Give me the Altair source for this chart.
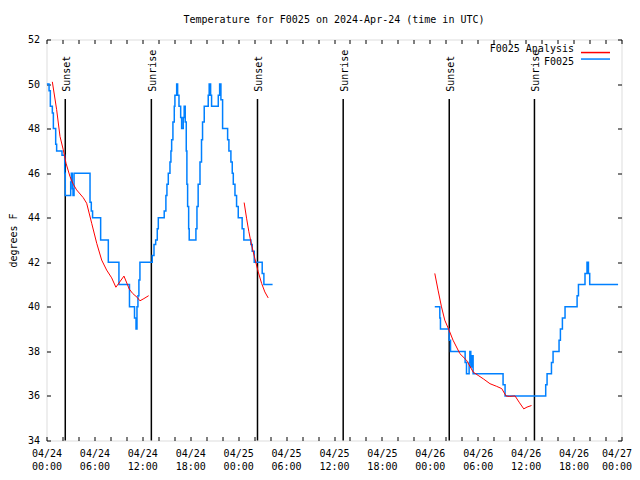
import altair as alt
import pandas as pd

TITLE = "Temperature for F0025 on 2024-Apr-24 (time in UTC)"
OBS_NAME = "F0025"
ANA_NAME = "F0025 Analysis"
Y_TITLE = "degrees F"
START_Y, START_M, START_D = 2024, 4, 24   # hours below count from this day 00:00 UTC

# Observations (hours since start, degrees F), change points of the stepped trace
obs1_h = [0.05, 0.32, 0.48, 0.73, 0.86, 1.15, 1.27, 1.94, 2.28, 2.35, 3.03, 3.11, 3.23, 3.32, 3.45,
          5.45, 5.61, 5.77, 6.78, 7.74, 9.07, 10.39, 11.02, 11.21, 11.33, 11.45, 11.57, 11.70,
          13.24, 13.46, 13.67, 13.87, 14.00, 14.74, 14.95, 15.08, 15.25, 15.46, 15.58, 15.67, 15.83,
          16.00, 16.08, 16.30, 16.42, 16.59, 16.80, 16.92, 17.12, 17.24, 17.37, 17.50, 17.58, 17.67,
          17.80, 17.87, 18.71, 18.84, 18.99, 19.22, 19.41, 19.54, 19.75, 20.25, 20.37, 20.55, 20.67,
          21.51, 21.68, 21.84, 22.05, 22.68, 22.84, 23.09, 23.26, 23.39, 23.60, 23.80, 24.01, 24.50,
          24.71, 25.59, 25.76, 26.01, 27.01, 27.22, 28.31]
obs1_v = [50.0, 49.7, 49.0, 48.7, 48.0, 47.3, 47.0, 46.8, 46.0, 45.0, 45.6, 46.0, 45.3, 45.0, 46.0,
          44.7, 44.3, 44.0, 43.0, 42.0, 41.0, 40.0, 39.5, 39.0, 40.0, 40.5, 41.2, 42.0,
          42.3, 42.8, 43.0, 43.5, 44.0, 44.3, 45.0, 45.5, 46.0, 46.5, 47.0, 47.5, 48.3,
          49.0, 49.5, 50.0, 49.5, 49.0, 48.5, 48.0, 48.5, 49.0, 48.3, 47.0, 45.5, 44.5,
          43.5, 43.0, 43.5, 44.5, 45.5, 46.5, 47.5, 48.3, 49.0, 49.5, 50.0, 49.5, 49.0,
          49.5, 50.0, 49.3, 48.0, 47.5, 47.0, 46.5, 46.0, 45.5, 45.0, 44.5, 44.0, 43.5,
          43.0, 42.8, 42.5, 42.0, 41.5, 41.0, 41.0]

obs2_h = [48.62, 49.25, 49.33, 50.42, 50.59, 52.42, 52.59, 52.92, 53.01, 53.13, 53.26, 53.42,
          57.17, 57.42, 62.51, 62.68, 63.23, 63.43, 64.18, 64.35, 64.60, 64.93, 66.44, 66.61,
          67.43, 67.68, 67.86, 68.02, 71.57]
obs2_v = [40.0, 39.5, 39.0, 38.5, 38.0, 37.5, 37.0, 37.5, 38.0, 37.3, 37.8, 37.0,
          36.5, 36.0, 36.5, 37.0, 37.5, 38.0, 38.5, 39.0, 39.5, 40.0, 40.5, 41.0,
          41.5, 42.0, 41.5, 41.0, 41.0]

# Analysis trace
ana1_h = [0.73, 1.27, 1.69, 2.10, 2.44, 2.94, 3.36, 3.77, 4.60, 5.03, 5.66, 6.29, 6.91, 7.53,
          8.16, 8.69, 9.70, 10.36, 10.79, 11.37, 11.70, 12.20, 12.79]
ana1_v = [50.1, 48.85, 47.65, 47.05, 46.45, 45.85, 45.5, 45.25, 44.9, 44.65, 43.75, 42.85, 42.1, 41.65,
          41.3, 40.88, 41.38, 40.8, 40.6, 40.42, 40.27, 40.37, 40.5]
ana2_h = [24.75, 25.05, 25.34, 25.68, 26.09, 26.51, 26.94, 27.34, 27.76]
ana2_v = [44.68, 43.98, 43.37, 42.77, 42.17, 41.57, 41.05, 40.67, 40.4]
ana3_h = [48.62, 49.03, 49.46, 49.87, 50.41, 50.91, 51.76, 52.60, 53.43, 54.06, 54.69, 55.53,
          56.37, 57.00, 57.54, 57.95, 58.67, 59.18, 59.76, 60.17, 60.73]
ana3_v = [41.5, 40.75, 40.0, 39.4, 38.95, 38.5, 37.9, 37.6, 37.07, 36.92, 36.77, 36.55,
          36.43, 36.33, 36.0, 35.98, 36.0, 35.72, 35.42, 35.5, 35.57]

# Sun events
event_h = [2.35, 13.13, 26.42, 37.15, 50.43, 61.10]
event_name = ["Sunset", "Sunrise", "Sunset", "Sunrise", "Sunset", "Sunrise"]

# Legend entries (gnuplot style: key text right-aligned, line sample to its right)
legend_names = [ANA_NAME, OBS_NAME]

Y_MIN, Y_MAX = 34, 52
X_MIN, X_MAX = 0, 72

def seg_df(hs, vs, series, seg):
    return pd.DataFrame({"h": hs, "v": vs, "series": series, "seg": seg})

obs_df = pd.concat([seg_df(obs1_h, obs1_v, OBS_NAME, 1), seg_df(obs2_h, obs2_v, OBS_NAME, 2)])
ana_df = pd.concat([seg_df(ana1_h, ana1_v, ANA_NAME, 1), seg_df(ana2_h, ana2_v, ANA_NAME, 2),
                    seg_df(ana3_h, ana3_v, ANA_NAME, 3)])
ev_df = pd.DataFrame({"h": event_h, "name": event_name})
leg_df = pd.DataFrame({"series": legend_names})

FONT = "DejaVu Sans Mono"
xscale = alt.Scale(domain=[X_MIN, X_MAX], nice=False, zero=False)
yscale = alt.Scale(domain=[Y_MIN, Y_MAX], nice=False, zero=False)
cscale = alt.Scale(domain=legend_names, range=["#ff0000", "#0080ff"])
# key rows: pixel rows inside the plot area for the two legend entries
keyscale = alt.Scale(domain=legend_names, range=[9.8, 22.8], padding=0)

xvals = list(range(X_MIN, X_MAX + 1, 2))
yvals = list(range(Y_MIN, Y_MAX + 1, 2))
base_t = f"utc({START_Y},{START_M - 1},{START_D})+datum.value*3600000"
xlabel_expr = (f"datum.value % 6 == 0 ? [utcFormat({base_t},'%m/%d'), "
               f"utcFormat({base_t},'%H:%M')] : ''")

common_axis = dict(tickSize=4, offset=-4, domain=False, grid=False, tickColor="black",
                   tickWidth=1, labelFont=FONT, labelFontSize=10, labelColor="black")

x_bottom = alt.Axis(orient="bottom", values=xvals, labelExpr=xlabel_expr, labelPadding=7.5,
                    labelBaseline="top", labelLineHeight=13, labelOverlap=False,
                    labelFlush=False, title=None,
                    labelOffset={"condition": {"test": f"datum.value == {X_MAX}", "value": -5},
                                 "value": 0},
                    **common_axis)
y_left = alt.Axis(orient="left", values=yvals, labelPadding=7, labelOverlap=False,
                  title=Y_TITLE, titleFont=FONT, titleFontSize=10, titleFontWeight="normal",
                  titleColor="black", titleX=-37, titleY=200.5, titleAngle=270,
                  titleAlign="center", titleBaseline="middle", **common_axis)
x_top = alt.Axis(orient="top", values=xvals, labels=False, title=None, **common_axis)
y_right = alt.Axis(orient="right", values=yvals, labels=False, title=None, **common_axis)

rules = alt.Chart(ev_df).mark_rule(color="black", strokeWidth=1.5).encode(
    x=alt.X("h:Q", scale=xscale, axis=x_top),
    y=alt.Y("y0:Q", scale=yscale, axis=y_right),
    y2="y1:Q",
).transform_calculate(y0=f"{Y_MIN}", y1="49.33")

labels = alt.Chart(ev_df).mark_text(angle=270, align="left", baseline="middle", font=FONT,
                                    fontSize=10, color="black", dy=1.5).encode(
    x=alt.X("h:Q", scale=xscale, axis=None),
    y=alt.Y("ly:Q", scale=yscale, axis=None),
    text="name:N",
).transform_calculate(ly="49.65")

obs_line = alt.Chart(obs_df).mark_line(interpolate="step-after", strokeWidth=1.5).encode(
    x=alt.X("h:Q", scale=xscale, axis=x_bottom),
    y=alt.Y("v:Q", scale=yscale, axis=y_left),
    color=alt.Color("series:N", scale=cscale, legend=None),
    detail="seg:N",
)

ana_line = alt.Chart(ana_df).mark_line(strokeWidth=1).encode(
    x=alt.X("h:Q", scale=xscale, axis=None),
    y=alt.Y("v:Q", scale=yscale, axis=None),
    color=alt.Color("series:N", scale=cscale, legend=None),
    detail="seg:N",
)

key_text = alt.Chart(leg_df).mark_text(align="right", baseline="middle", font=FONT,
                                       fontSize=10, color="black").encode(
    x=alt.value(527.5),
    y=alt.Y("series:N", scale=keyscale, axis=None),
    text="series:N",
)

key_line = alt.Chart(leg_df).mark_rule(strokeWidth=1.5).encode(
    x=alt.value(534.5),
    x2=alt.value(563.5),
    y=alt.Y("series:N", scale=keyscale, axis=None),
    color=alt.Color("series:N", scale=cscale, legend=None),
)

chart = alt.layer(rules, labels, obs_line, ana_line, key_text, key_line).resolve_scale(
    y="independent"
).resolve_axis(
    x="independent", y="independent"
).properties(
    width=575, height=401, autosize="none",
    padding={"left": 38.5, "top": 31.5, "right": 10.5, "bottom": 31.5},
    title=alt.TitleParams(TITLE, font=FONT, fontSize=10, fontWeight="normal", color="black",
                          anchor="middle", baseline="alphabetic", offset=2),
).configure_view(stroke="black", strokeWidth=1).configure(background="white")

chart.save("out.html", embed_options={"renderer": "svg", "actions": False})
